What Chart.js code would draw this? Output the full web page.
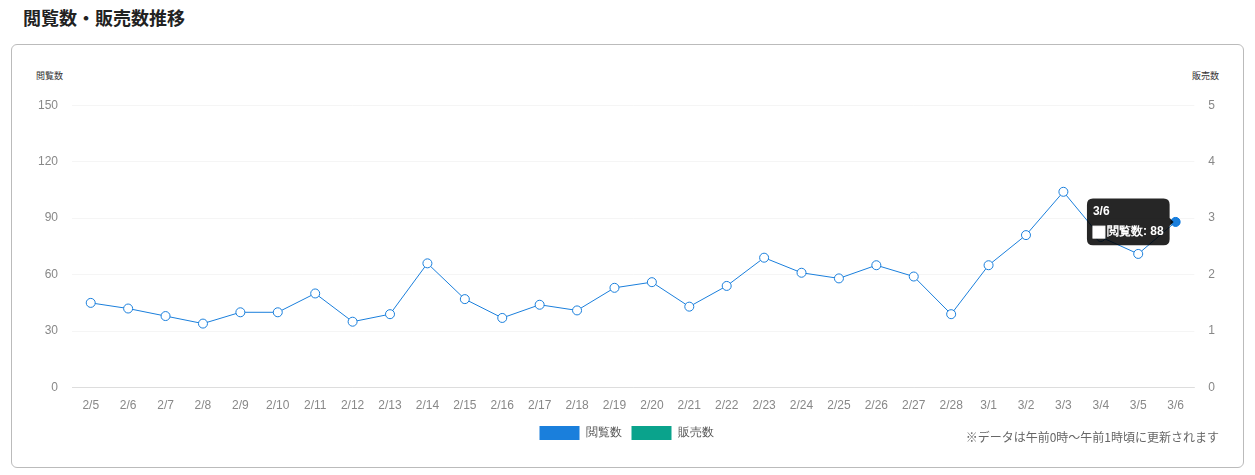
<!DOCTYPE html>
<html><head><meta charset="utf-8">
<script src="https://cdn.jsdelivr.net/npm/chart.js@4/dist/chart.umd.min.js"></script>
<style>
body{margin:0;background:#fff;font-family:"Noto Sans CJK JP","Noto Sans",sans-serif;}
h2{position:absolute;left:23px;top:4px;margin:0;font-size:18px;font-weight:bold;color:#222;}
.card{position:absolute;left:11px;top:44px;width:1231px;height:422px;border:1px solid #bbb;border-radius:6px;}
.wrap{position:absolute;left:12px;top:39px;width:1205px;height:366px;}
.yl{position:absolute;top:24px;font-size:9px;color:#333;}
.note{position:absolute;right:24px;bottom:22px;font-size:12px;color:#666;}
</style></head><body>
<h2>閲覧数・販売数推移</h2>
<div class="card">
  <span class="yl" style="left:24px">閲覧数</span>
  <span class="yl" style="right:24px">販売数</span>
  <div class="wrap"><canvas id="c"></canvas></div>
  <div class="note">※データは午前0時～午前1時頃に更新されます</div>
</div>
<script>
// 日付ラベル
const labels = ['2/5','2/6','2/7','2/8','2/9','2/10','2/11','2/12','2/13','2/14','2/15','2/16','2/17','2/18','2/19','2/20','2/21','2/22','2/23','2/24','2/25','2/26','2/27','2/28','3/1','3/2','3/3','3/4','3/5','3/6'];
const views = [45,42,38,34,40,40,50,35,39,66,47,37,44,41,53,56,43,54,69,61,58,65,59,39,65,81,104,80,71,88];
const sales = [];
const leftTicks = [0,30,60,90,120,150];

const tickColor = '#888';
const gridColor = 'rgba(0,0,0,0.04)';

const chart = new Chart(document.getElementById('c'), {
    data: {
        labels: labels,
        datasets: [
            {
                type: 'line', label: '閲覧数', data: views, yAxisID: 'y',
                borderColor: '#1a7fdc', backgroundColor: '#1a7fdc', borderWidth: 1,
                pointRadius: 4.5, pointHoverRadius: 4.5, pointBackgroundColor: '#fff',
                pointHoverBackgroundColor: '#1a7fdc', pointBorderColor: '#1a7fdc', tension: 0,
            },
            {
                type: 'bar', label: '販売数', data: sales, yAxisID: 'y1',
                backgroundColor: '#0aa38c',
            }
        ]
    },
    options: {
        responsive: true, maintainAspectRatio: false,
        animation: false,
        plugins: {
            legend: {
                position: 'bottom',
                labels: { boxWidth: 40, boxHeight: 14, color: '#555', font: { size: 12 }, padding: 10,
                    generateLabels: (ch) => ch.data.datasets.map((d, i) => ({
                        text: d.label, fillStyle: i === 0 ? '#1a7fdc' : '#0aa38c',
                        strokeStyle: 'transparent', lineWidth: 0, datasetIndex: i, fontColor: '#555'
                    }))
                }
            },
            tooltip: {
                backgroundColor: 'rgba(0,0,0,0.85)', titleFont: { size: 12, weight: 'bold' },
                bodyFont: { size: 12, weight: 'bold' }, padding: 6, caretSize: 4,
                callbacks: { labelColor: () => ({ borderColor: '#fff', backgroundColor: '#fff' }) }
            }
        },
        scales: {
            x: { ticks: { color: tickColor, font: { size: 12 } }, grid: { display: false } },
            y: {
                position: 'left', min: 0, max: 150,
                afterBuildTicks: (s) => { s.ticks = leftTicks.map(v => ({ value: v })); },
                ticks: { color: tickColor, font: { size: 12 }, padding: 14 },
                grid: { color: gridColor, drawTicks: false }, border: { display: false }
            },
            y1: {
                position: 'right', min: 0, max: 5,
                ticks: { stepSize: 1, color: tickColor, font: { size: 12 }, padding: 14 },
                grid: { display: false, drawTicks: false }, border: { display: false }
            }
        }
    }
});

const last = views.length - 1;
chart.setActiveElements([{ datasetIndex: 0, index: last }]);
chart.tooltip.setActiveElements([{ datasetIndex: 0, index: last }], { x: 0, y: 0 });
chart.update();
</script>
</body></html>
